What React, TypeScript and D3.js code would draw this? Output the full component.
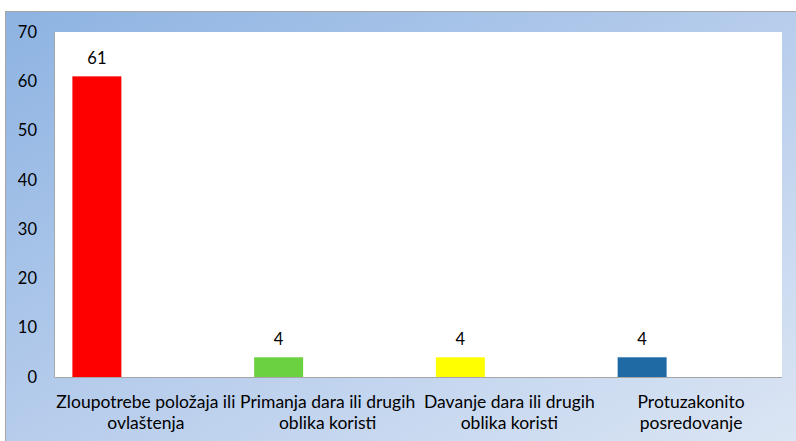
import React from "react";
import * as d3 from "d3";

const categories = [
  ["Zloupotrebe položaja ili", "ovlaštenja"],
  ["Primanja dara ili drugih", "oblika koristi"],
  ["Davanje dara ili drugih", "oblika koristi"],
  ["Protuzakonito", "posredovanje"],
];
const values = [61, 4, 4, 4];
const barColors = ["#FF0000", "#6CD140", "#FFFF00", "#1F6AA5"];
const yTicks = [0, 10, 20, 30, 40, 50, 60, 70];

const W = 796;
const H = 441;
const plot = { left: 55, right: 782, top: 32, bottom: 377 };
const FONT = "Lato, 'Open Sans', sans-serif";

export default function App() {
  const keys = categories.map((c) => c.join(" "));
  const x = d3.scaleBand<string>().domain(keys).range([plot.left, plot.right]).padding(0);
  const inner = d3
    .scaleBand<number>()
    .domain([0, 1, 2])
    .range([0, x.bandwidth()])
    .paddingInner(0)
    .paddingOuter(0.355);
  const y = d3.scaleLinear().domain([0, 70]).range([plot.bottom, plot.top]);

  return (
    <svg width={W} height={H} style={{ position: "absolute", left: 0, top: 0 }} fontFamily={FONT}>
      <defs>
        <linearGradient id="bg" x1="0" y1="0" x2="1" y2="1">
          <stop offset="0" stopColor="#8DB3E2" />
          <stop offset="0.5" stopColor="#B7CDEC" />
          <stop offset="1" stopColor="#DCE6F4" />
        </linearGradient>
      </defs>
      <rect x={0} y={0} width={W} height={H} fill="#fff" />
      <rect x={5.5} y={11.5} width={W} height={H} fill="url(#bg)" stroke="#A6A6A6" strokeWidth={1} />
      <rect x={plot.left} y={plot.top} width={plot.right - plot.left} height={plot.bottom - plot.top} fill="#fff" />
      {yTicks.map((t) => (
        <text key={t} x={37} y={y(t)} dy="0.35em" textAnchor="end" fontSize={16.5} fill="#000">
          {t}
        </text>
      ))}
      {values.map((v, i) => {
        const bx = (x(keys[i]) as number) + (inner(0) as number);
        const bw = inner.bandwidth();
        return (
          <g key={i}>
            <rect x={bx} y={y(v)} width={bw} height={plot.bottom - y(v)} fill={barColors[i]} />
            <text x={bx + bw / 2} y={y(v) - 12.5} textAnchor="middle" fontSize={16.5} fill="#000">
              {v}
            </text>
          </g>
        );
      })}
      <line x1={plot.left - 0.5} x2={plot.left - 0.5} y1={plot.top} y2={plot.bottom} stroke="#A6A6A6" />
      <line x1={plot.left - 0.5} x2={plot.right} y1={plot.bottom + 0.5} y2={plot.bottom + 0.5} stroke="#A6A6A6" />
      {categories.map((lines, i) => {
        const cx = (x(keys[i]) as number) + x.bandwidth() / 2;
        return (
          <text key={i} textAnchor="middle" fontSize={17.5} fill="#000">
            {lines.map((l, j) => (
              <tspan key={j} x={cx} y={407.5 + j * 21.5}>
                {l}
              </tspan>
            ))}
          </text>
        );
      })}
    </svg>
  );
}
